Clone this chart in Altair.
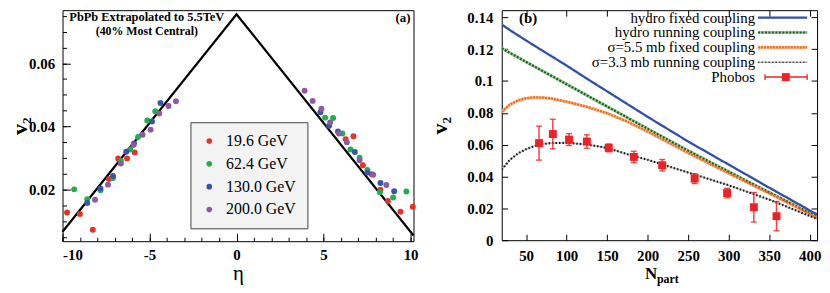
import altair as alt
import pandas as pd

FONT = "'Liberation Serif', 'Times New Roman', Tinos, 'DejaVu Serif', serif"

# ---------------- Panel (a): v2 vs eta ----------------
energies = ["19.6 GeV", "62.4 GeV", "130.0 GeV", "200.0 GeV"]
energy_colors = ["#e8312a", "#1fb04b", "#3a55a6", "#9059a8"]

eta_196 = [-9.74, -9.0, -8.26, -7.33, -6.8, -6.29, -5.85, 6.27, 6.72, 7.26, 7.76, 8.27, 8.7, 9.42, 10.13]
v2_196 = [0.0128, 0.0123, 0.0073, 0.0234, 0.0299, 0.0299, 0.0318, 0.0360, 0.0369, 0.0277, 0.0249, 0.0200, 0.0164, 0.0130, 0.0146]

eta_624 = [-9.33, -8.58, -7.82, -7.10, -6.65, -6.11, -5.66, -5.13, -4.67, 5.09, 5.55, 6.08, 6.55, 7.07, 7.52, 8.24, 9.00, 9.76]
v2_624 = [0.0201, 0.0170, 0.0198, 0.0237, 0.0291, 0.0327, 0.0367, 0.0419, 0.0448, 0.0428, 0.0427, 0.0378, 0.0327, 0.0301, 0.0262, 0.0192, 0.0175, 0.0194]

eta_130 = [-8.58, -7.82, -7.10, -6.34, -5.89, -4.86, -4.37, 4.82, 5.32, 5.83, 6.80, 7.52, 8.27, 9.06]
v2_130 = [0.0158, 0.0204, 0.0243, 0.0320, 0.0346, 0.0416, 0.0474, 0.0445, 0.0402, 0.0384, 0.0319, 0.0254, 0.0221, 0.0195]

eta_200 = [-8.13, -7.39, -6.65, -5.93, -5.40, -4.94, -4.44, -3.91, -3.48, 3.91, 4.37, 4.88, 5.38, 5.89, 6.34, 7.07, 7.85, 8.61]
v2_200 = [0.0168, 0.0216, 0.0283, 0.0341, 0.0374, 0.0390, 0.0441, 0.0465, 0.0480, 0.0513, 0.0481, 0.0456, 0.0413, 0.0378, 0.0350, 0.0293, 0.0247, 0.0215]

extrap_eta = [-10.0, 0.0, 10.17]
extrap_v2 = [0.0067, 0.0755, 0.0055]

a_xticks_major = [-10, -5, 0, 5, 10]
a_xticks_minor = list(range(-10, 11))
a_yticks_major = [0.02, 0.04, 0.06]
a_yticks_minor = [round(0.005 * i, 3) for i in range(1, 16)]

# ---------------- Panel (b): v2 vs Npart ----------------
series = ["hydro fixed coupling", "hydro running coupling",
          "σ=5.5 mb fixed coupling", "σ=3.3 mb running coupling"]
series_colors = ["#2f4fab", "#1e5e24", "#f06a22", "#1a1a1a"]
series_under = [None, "#9fd49f", "#f8bd8e", "#bdbdbd"]
series_dash = [[1, 0], [2, 1.5], [2, 1], [1.5, 2]]
series_width = [2.3, 2.2, 2.2, 1.1]

npart_curve = [20, 30, 40, 50, 60, 70, 80, 100, 125, 150, 175, 200, 250, 300, 350, 413]
v2_hydro_fixed = [0.1355, 0.1320, 0.1287, 0.1255, 0.1223, 0.1191, 0.1160, 0.1097, 0.1015, 0.0935,
                  0.0855, 0.0775, 0.0620, 0.0475, 0.0330, 0.0150]
v2_hydro_running = [0.1206, 0.1177, 0.1148, 0.1120, 0.1092, 0.1064, 0.1036, 0.0980, 0.0910, 0.0840,
                    0.0770, 0.0700, 0.0562, 0.0430, 0.0300, 0.0137]
v2_sigma55_fixed = [0.0805, 0.0852, 0.0878, 0.0892, 0.0897, 0.0896, 0.0891, 0.0870, 0.0838, 0.0797,
                    0.0745, 0.0682, 0.0548, 0.0420, 0.0295, 0.0132]
v2_sigma33_running = [0.0444, 0.0505, 0.0545, 0.0572, 0.0592, 0.0604, 0.0610, 0.0612, 0.0601, 0.0580,
                      0.0540, 0.0505, 0.0425, 0.0345, 0.0255, 0.0125]

phobos_npart = [66, 83, 103, 125, 152, 183, 218, 258, 298, 331, 359]
phobos_v2 = [0.0610, 0.0667, 0.0632, 0.0620, 0.0580, 0.0523, 0.0471, 0.0387, 0.0296, 0.0207, 0.0151]
phobos_err = [0.0107, 0.0093, 0.0037, 0.0042, 0.0025, 0.0036, 0.0036, 0.0031, 0.0030, 0.0093, 0.0092]
phobos_color = "#ee2226"

b_xticks = [50, 100, 150, 200, 250, 300, 350, 400]
b_yticks = [0, 0.02, 0.04, 0.06, 0.08, 0.1, 0.12, 0.14]

# ---------------- sizes ----------------
W_A, H_A = 354, 233
W_B, H_B = 318, 232
GAP = 89

# ---------------- tables ----------------
pts_rows = []
for name, xs, ys in zip(energies, [eta_196, eta_624, eta_130, eta_200], [v2_196, v2_624, v2_130, v2_200]):
    for e, v in zip(xs, ys):
        pts_rows.append({"eta": e, "v2": v, "energy": name})
pts = pd.DataFrame(pts_rows)
line_df = pd.DataFrame({"eta": extrap_eta, "v2": extrap_v2})

curve_rows = []
for name, vals in zip(series, [v2_hydro_fixed, v2_hydro_running, v2_sigma55_fixed, v2_sigma33_running]):
    for n, v in zip(npart_curve, vals):
        curve_rows.append({"npart": n, "v2": v, "series": name})
curves = pd.DataFrame(curve_rows)
phobos = pd.DataFrame({
    "npart": phobos_npart, "v2": phobos_v2,
    "lo": [v - e for v, e in zip(phobos_v2, phobos_err)],
    "hi": [v + e for v, e in zip(phobos_v2, phobos_err)],
})
one = pd.DataFrame({"k": [0]})

xa = alt.Scale(domain=[-10, 10.17], nice=False, zero=False)
ya = alt.Scale(domain=[0.0037, 0.0768], nice=False, zero=False)
xb = alt.Scale(domain=[20, 409], nice=False, zero=False)
yb = alt.Scale(domain=[0, 0.1445], nice=False, zero=False)


def tick_axis(orient, offset, values, size):
    return alt.Axis(orient=orient, offset=offset, values=values, labels=False, domain=False,
                    grid=False, ticks=True, tickSize=size, tickColor="black", tickWidth=1,
                    title=None, minExtent=0, maxExtent=0)


def tick_layer(df, xf, yf, xs, ys, xo, yo, xoff, yoff, xv, yv, size):
    return alt.Chart(df).mark_point(opacity=0).encode(
        x=alt.X(xf, scale=xs, axis=tick_axis(xo, xoff, xv, size)),
        y=alt.Y(yf, scale=ys, axis=tick_axis(yo, yoff, yv, size)),
    )


def text_at(txt, x, y, size, weight="bold", align="center", baseline="middle", color="black"):
    return alt.Chart(one).mark_text(text=txt, font=FONT, fontSize=size, fontWeight=weight,
                                    align=align, baseline=baseline, color=color).encode(
        x=alt.value(x), y=alt.value(y))


# ---------------- Panel (a) layers ----------------
line_a = alt.Chart(line_df).mark_line(color="black", strokeWidth=2.2).encode(
    x=alt.X("eta:Q", scale=xa, axis=alt.Axis(
        values=a_xticks_major, ticks=False, tickSize=0, domain=False, grid=False, labelPadding=6,
        labelExpr="(datum.value < 0 ? '-' : '') + format(abs(datum.value), 'd')",
        title="η", titleFontSize=21, titleFontWeight="normal", titlePadding=1)),
    y=alt.Y("v2:Q", scale=ya, axis=alt.Axis(
        values=a_yticks_major, ticks=False, tickSize=0, domain=False, grid=False, labelPadding=8,
        minExtent=34, maxExtent=34,
        format=".2f", title="v₂", titleFontSize=22, titleFontWeight="bold", titlePadding=-3)),
)

points_a = alt.Chart(pts).mark_circle(size=36, opacity=1).encode(
    x=alt.X("eta:Q", scale=xa, axis=None),
    y=alt.Y("v2:Q", scale=ya, axis=None),
    color=alt.Color("energy:N", scale=alt.Scale(domain=energies, range=energy_colors),
                    legend=alt.Legend(title=None, orient="none", legendX=129, legendY=113,
                                      fillColor="#f3f3f3", strokeColor="#444444", padding=11,
                                      rowPadding=7, labelFont=FONT, labelFontSize=16,
                                      labelFontWeight="normal", symbolSize=32, symbolType="circle",
                                      labelOffset=9, labelLimit=200, symbolStrokeWidth=0)),
)

ticks_a_major = tick_layer(line_df, "eta:Q", "v2:Q", xa, ya, "top", "right", -H_A, -W_A,
                           a_xticks_major, a_yticks_major, 8)
ticks_a_minor = tick_layer(line_df, "eta:Q", "v2:Q", xa, ya, "top", "right", -H_A, -W_A,
                           a_xticks_minor, a_yticks_minor, 4)

panel_a = alt.layer(
    line_a, points_a, ticks_a_major, ticks_a_minor,
    text_at("PbPb Extrapolated to 5.5TeV", 85, 6.5, 12.5),
    text_at("(40% Most Central)", 85, 21, 12),
    text_at("(a)", 351, 8, 13, align="right"),
).resolve_axis(x="independent", y="independent").properties(width=W_A, height=H_A)

# ---------------- Panel (b) layers ----------------
layers_b = []
for s, under in zip(series, series_under):
    if under is None:
        continue
    w = 3.2 if s != series[3] else 1.6
    layers_b.append(alt.Chart(curves).transform_filter(alt.datum.series == s)
                    .mark_line(color=under, strokeWidth=w, clip=True).encode(
        x=alt.X("npart:Q", scale=xb, axis=None),
        y=alt.Y("v2:Q", scale=yb, axis=None)))

lines_b = alt.Chart(curves).mark_line(clip=True).encode(
    x=alt.X("npart:Q", scale=xb, axis=alt.Axis(
        values=b_xticks, ticks=False, tickSize=0, domain=False, grid=False, labelPadding=8,
        format="d", title=None)),
    y=alt.Y("v2:Q", scale=yb, axis=alt.Axis(
        values=b_yticks, ticks=False, tickSize=0, domain=False, grid=False, labelPadding=9,
        minExtent=36, maxExtent=36,
        labelExpr="format(datum.value, '.2~f')", title="v₂", titleFontSize=22,
        titleFontWeight="bold", titlePadding=15)),
    color=alt.Color("series:N", scale=alt.Scale(domain=series, range=series_colors), legend=None),
    strokeDash=alt.StrokeDash("series:N", scale=alt.Scale(domain=series, range=series_dash), legend=None),
    strokeWidth=alt.StrokeWidth("series:N", scale=alt.Scale(domain=series, range=series_width), legend=None),
)
layers_b.append(lines_b)

err_b = alt.Chart(phobos).mark_rule(color=phobos_color, strokeWidth=1.5, opacity=0.85).encode(
    x=alt.X("npart:Q", scale=xb, axis=None),
    y=alt.Y("lo:Q", scale=yb, axis=None),
    y2="hi:Q")
cap_lo = alt.Chart(phobos).mark_tick(color=phobos_color, orient="horizontal", size=6, thickness=1.3,
                                     opacity=0.85).encode(
    x=alt.X("npart:Q", scale=xb, axis=None), y=alt.Y("lo:Q", scale=yb, axis=None))
cap_hi = alt.Chart(phobos).mark_tick(color=phobos_color, orient="horizontal", size=6, thickness=1.3,
                                     opacity=0.85).encode(
    x=alt.X("npart:Q", scale=xb, axis=None), y=alt.Y("hi:Q", scale=yb, axis=None))
sq_b = alt.Chart(phobos).mark_square(color=phobos_color, size=64, opacity=1).encode(
    x=alt.X("npart:Q", scale=xb, axis=None), y=alt.Y("v2:Q", scale=yb, axis=None))
layers_b += [err_b, cap_lo, cap_hi, sq_b]

# legend of panel (b), drawn in pixel space of the plot area
leg_rows_y = [7.5, 22.5, 37.5, 52.5, 67.5]
leg_text_x = 255.5
leg_sym_x0, leg_sym_x1 = 258.5, 308
for i, s in enumerate(series):
    y = leg_rows_y[i]
    layers_b.append(text_at(s, leg_text_x, y, 15, weight="normal", align="right"))
    if series_under[i] is not None:
        layers_b.append(alt.Chart(one).mark_rule(color=series_under[i],
                                                 strokeWidth=3.2 if i < 3 else 1.6).encode(
            x=alt.value(leg_sym_x0), x2=alt.value(leg_sym_x1), y=alt.value(y)))
    layers_b.append(alt.Chart(one).mark_rule(color=series_colors[i], strokeWidth=series_width[i],
                                             strokeDash=series_dash[i]).encode(
        x=alt.value(leg_sym_x0), x2=alt.value(leg_sym_x1), y=alt.value(y)))
yp = leg_rows_y[4]
layers_b.append(text_at("Phobos", leg_text_x, yp, 15, weight="normal", align="right"))
layers_b.append(alt.Chart(one).mark_rule(color=phobos_color, strokeWidth=1.5).encode(
    x=alt.value(265.5), x2=alt.value(308), y=alt.value(yp)))
for cx in (265.5, 308):
    layers_b.append(alt.Chart(one).mark_rule(color=phobos_color, strokeWidth=1.3).encode(
        x=alt.value(cx), y=alt.value(yp - 3), y2=alt.value(yp + 3)))
layers_b.append(alt.Chart(one).mark_square(color=phobos_color, size=64, opacity=1).encode(
    x=alt.value(286.5), y=alt.value(yp)))

layers_b.append(tick_layer(phobos, "npart:Q", "v2:Q", xb, yb, "top", "right", -H_B, -W_B,
                           b_xticks, b_yticks, 6))
layers_b.append(tick_layer(phobos, "npart:Q", "v2:Q", xb, yb, "bottom", "left", -H_B, -W_B,
                           b_xticks, b_yticks, 6))
layers_b.append(text_at("(b)", 26.5, 8, 15))
layers_b.append(text_at("N", 150.5, 266, 17))
layers_b.append(text_at("part", 156.5, 271, 12, align="left"))

panel_b = alt.layer(*layers_b).resolve_axis(x="independent", y="independent").properties(
    width=W_B, height=H_B)

chart = alt.hconcat(panel_a, panel_b, spacing=GAP, bounds="flush").resolve_scale(
    color="independent", strokeDash="independent", strokeWidth="independent"
).properties(
    padding={"left": 0, "top": 0, "right": 0, "bottom": 0}
).configure_view(
    stroke="black", strokeWidth=1
).configure_axis(
    labelFont=FONT, labelFontSize=15, labelFontWeight="bold", labelColor="black",
    titleFont=FONT, titleColor="black"
)

chart.save("out.html", embed_options={"renderer": "svg", "actions": False})
